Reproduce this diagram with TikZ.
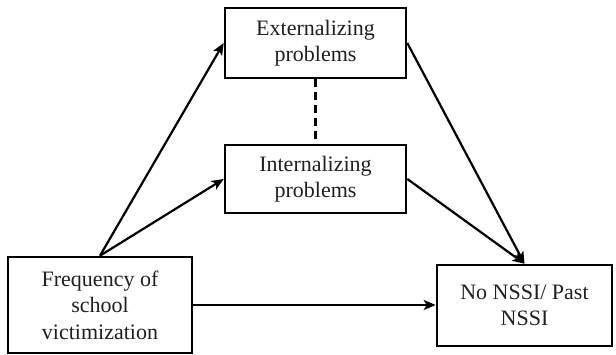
\documentclass[tikz,border=0pt]{standalone}
\usepackage{fontspec}
\setmainfont{Liberation Serif}
\usetikzlibrary{arrows.meta}
\begin{document}
\begin{tikzpicture}[x=1pt,y=-1pt,
  box/.style={draw=black, line width=2.6pt, rectangle, align=center, inner sep=0pt,
    font=\fontsize{22}{26.5}\selectfont, text=black!88},
  conn/.style={line width=2.2pt, -{Stealth[length=12pt,width=10pt,inset=3pt]}}]
\useasboundingbox (0,0) rectangle (616,355);
\node[box, minimum width=184pt, minimum height=96pt] (freq) at (100,305) {Frequency of\\school\\victimization};
\node[box, minimum width=181pt, minimum height=70pt] (ext) at (315.5,43) {Externalizing\\problems};
\node[box, minimum width=181pt, minimum height=68pt] (int) at (315.5,179) {Internalizing\\problems};
\node[box, minimum width=175pt, minimum height=81pt] (nssi) at (524.5,305.5) {No NSSI/ Past\\NSSI};
\draw[conn] (freq.north) -- (ext.west);
\draw[conn] (freq.north) -- (int.west);
\draw[conn] (ext.east) -- (nssi.north);
\draw[conn] (int.east) -- (nssi.north);
\draw[conn] (freq.east) -- (freq.east -| nssi.west);
\draw[line width=2.2pt, dash pattern=on 8pt off 5pt] (ext.south) -- (int.north);
\end{tikzpicture}
\end{document}
